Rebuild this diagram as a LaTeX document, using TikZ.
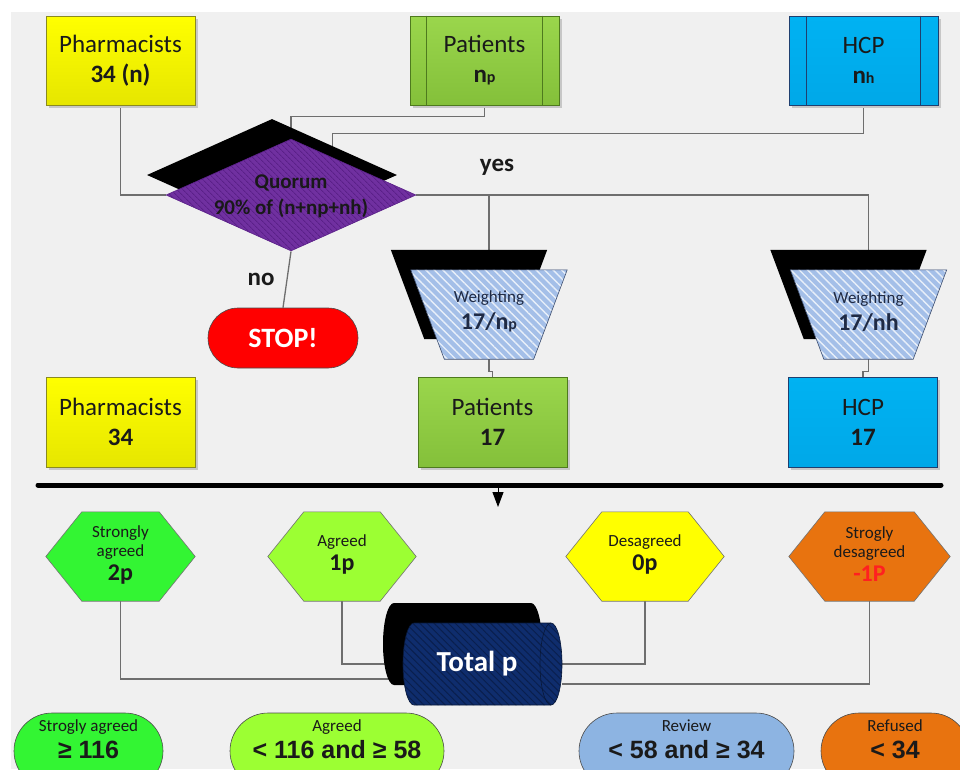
\documentclass[tikz,border=0pt]{standalone}
\usepackage{fontspec}
\setmainfont{Carlito}
\newfontfamily\arialf{Liberation Sans}
\usetikzlibrary{calc,patterns.meta,arrows.meta,shapes.geometric}
\pgfdeclarelayer{back}
\pgfdeclarelayer{conns}
\pgfsetlayers{back,conns,main}
\definecolor{bgc}{HTML}{F0F0F0}
\definecolor{txt}{HTML}{1A1A1A}
\definecolor{linec}{HTML}{6E6E6E}
\definecolor{yelT}{HTML}{FFFF00}
\definecolor{yelB}{HTML}{E6E600}
\definecolor{yelD}{HTML}{8A8A20}
\definecolor{grnT}{HTML}{9AD64C}
\definecolor{grnB}{HTML}{84C03A}
\definecolor{grnD}{HTML}{4E7A1E}
\definecolor{bluT}{HTML}{00B2F2}
\definecolor{bluB}{HTML}{00A8E8}
\definecolor{bluD}{HTML}{1F3F6F}
\definecolor{purF}{HTML}{7030A0}
\definecolor{purS}{HTML}{5A2088}
\definecolor{trapF}{HTML}{A4BFE8}
\definecolor{trapD}{HTML}{3F4F6F}
\definecolor{trtx}{HTML}{1F2A44}
\definecolor{navF}{HTML}{0F2D6D}
\definecolor{navS}{HTML}{0A1F4D}
\definecolor{navD}{HTML}{081838}
\definecolor{hexG}{HTML}{33F533}
\definecolor{hexL}{HTML}{9CFF33}
\definecolor{hexY}{HTML}{FFFF00}
\definecolor{hexO}{HTML}{E8730F}
\definecolor{revB}{HTML}{8DB4E2}
\definecolor{stopR}{HTML}{FF0000}
\definecolor{minusR}{HTML}{FF2020}
\newcommand\fsz[2]{\fontsize{#1}{#2}\selectfont}
\newcommand\mkhex[5]{%
  \node[minimum width=#3pt, minimum height=89pt, inner sep=0pt] (#1) at (#2,556.5) {};
  \path[draw=black!55, line width=0.6pt, fill=#4] (#1.west) -- ($(#1.north west)+(36,0)$) -- ($(#1.north east)+(-36,0)$) -- (#1.east) -- ($(#1.south east)+(-36,0)$) -- ($(#1.south west)+(36,0)$) -- cycle;
  \node[hextxt] at ($(#1)+(0,-2)$) {#5};
}
\newcommand\mktrap[3]{%
  \node[minimum width=156pt, minimum height=89pt, inner sep=0pt] (#1) at (#2,314.5) {};
  \fill[black] ($(#1.north west)+(-20,-20)$) -- ($(#1.north east)+(-20,-20)$) -- ($(#1.south east)+(-53.5,-20)$) -- ($(#1.south west)+(13.5,-20)$) -- cycle;
  \path[draw=trapD, line width=0.6pt, preaction={fill=trapF}, pattern={Lines[angle=-45,distance=6pt,line width=1.4pt]}, pattern color=white!75!trapF] (#1.north west) -- (#1.north east) -- ($(#1.south east)+(-33.5,0)$) -- ($(#1.south west)+(33.5,0)$) -- cycle;
  \node[trtxt] at ($(#1)+(0,-3)$) {#3};
}
\newcommand\cylshape[1]{%
  \path[#1] (551,623) -- (414,623) arc[start angle=270, end angle=90, x radius=11, y radius=41] -- (551,705) arc[start angle=90, end angle=-90, x radius=11, y radius=41] -- cycle;
}
\begin{document}
\begin{tikzpicture}[x=1pt,y=-1pt,
  conn/.style={draw=linec, line width=1.3pt},
  sbox/.style={minimum width=149pt, minimum height=89pt, inner sep=0pt, align=center, text=txt, font=\fsz{25}{30}, line width=0.8pt,
     preaction={fill=black!22, transform canvas={shift={(2.5pt,-2.5pt)}}}},
  ybox/.style={sbox, draw=yelD, top color=yelT, bottom color=yelB},
  gbox/.style={sbox, draw=grnD, top color=grnT, bottom color=grnB},
  bbox/.style={sbox, draw=bluD, top color=bluT, bottom color=bluB},
  hextxt/.style={align=center, text=txt, font=\fsz{17}{19}},
  trtxt/.style={align=center, text=trtx, font=\fsz{17}{27}},
  term/.style={draw=black!70, line width=0.6pt, rounded corners=38pt, minimum height=76pt, inner sep=0pt},
  termtxt/.style={align=center, text=txt, font=\fsz{17}{27}},
  lbl/.style={text=txt, font=\bfseries\fsz{25}{25}}
]
\path[use as bounding box] (0,0) rectangle (960,769);
\clip (0,0) rectangle (960,769);
\begin{pgfonlayer}{back}
  \fill[white] (0,0) rectangle (960,769);
  \fill[bgc] (11,12) rectangle (960,769);
\end{pgfonlayer}

% top row
\node[ybox] (ph) at (120.5,60.5) {Pharmacists\\\textbf{34 (n)}};
\node[gbox] (pat) at (484.5,60.5) {Patients\\\textbf{n{\fsz{16}{16}p}}};
\draw[grnD, line width=0.8pt] ($(pat.north west)+(17,0)$) -- ($(pat.south west)+(17,0)$);
\draw[grnD, line width=0.8pt] ($(pat.north east)+(-17,0)$) -- ($(pat.south east)+(-17,0)$);
\node[bbox] (hcp) at (863.5,60.5) {HCP\\\textbf{n{\fsz{16}{16}h}}};
\draw[bluD, line width=0.8pt] ($(hcp.north west)+(18,0)$) -- ($(hcp.south west)+(18,0)$);
\draw[bluD, line width=0.8pt] ($(hcp.north east)+(-18,0)$) -- ($(hcp.south east)+(-18,0)$);

% quorum diamond
\node[diamond, fill=black, minimum width=250pt, minimum height=112pt, inner sep=0pt] (qs) at (272,175) {};
\node[diamond, minimum width=250pt, minimum height=112pt, inner sep=0pt, draw=purS, line width=0.6pt,
      preaction={fill=purF}, pattern={Lines[angle=-45,distance=4pt,line width=0.9pt]}, pattern color=purS] (q) at (291,195) {};
\node[align=center, text=black!90, font=\bfseries\fsz{21}{26}] (qt) at (291,196) {Quorum\\90\% of (n+np+nh)};

\node[lbl] (yes) at (497,167) {yes};
\node[lbl] (no) at (261,279) {no};

\node[draw=black!70, fill=stopR, line width=0.6pt, rounded corners=30pt, minimum width=150pt, minimum height=60pt, inner sep=0pt,
      text=white, font=\bfseries\fsz{28}{28}] (stop) at (283,338) {STOP!};

% weighting
\mktrap{w1}{489}{Weighting\\{\bfseries\fsz{24}{24}17/n{\fsz{16}{16}p}}}
\mktrap{w2}{868.5}{Weighting\\{\bfseries\fsz{24}{24}17/nh}}

% second row
\node[ybox, minimum height=90pt] (ph2) at (120.5,422) {Pharmacists\\\textbf{34}};
\node[gbox, minimum height=90pt] (pat2) at (492.5,422) {Patients\\\textbf{17}};
\node[bbox, minimum height=90pt] (hcp2) at (863,422) {HCP\\\textbf{17}};

% bar and arrow
\coordinate (barL) at (38,485);
\coordinate (barR) at (941,485);
\draw[line width=5pt, line cap=round] (barL) -- (barR);
\coordinate (arrS) at (498,487);
\coordinate (arrE) at (498,507);
\draw[line width=1pt, -{Triangle[length=15pt,width=11pt]}] (arrS) -- (arrE);

% hexagons
\mkhex{hx1}{120.5}{149}{hexG}{Strongly\\agreed\\[5pt]{\bfseries\fsz{24}{24}2p}}
\mkhex{hx2}{342}{148}{hexL}{Agreed\\[5pt]{\bfseries\fsz{24}{24}1p}}
\mkhex{hx3}{645}{158}{hexY}{Desagreed\\[5pt]{\bfseries\fsz{24}{24}0p}}
\mkhex{hx4}{869.5}{161}{hexO}{Strogly\\desagreed\\[5pt]{\color{minusR}\bfseries\fsz{24}{24}-1P}}

% total cylinder
\node[minimum width=159pt, minimum height=82pt, inner sep=0pt] (tot) at (482.5,664) {};
\cylshape{fill=black, shift={(-20,-20)}}
\cylshape{draw=navD, line width=0.6pt, preaction={fill=navF}, pattern={Lines[angle=-45,distance=5pt,line width=1pt]}, pattern color=navS}
\draw[navD, line width=0.6pt] (551,623) arc[start angle=270, end angle=90, x radius=11, y radius=41];
\node[text=white, font=\bfseries\fsz{29}{29}] (tott) at (477,664) {Total p};

% terminators
\node[term, fill=hexG, minimum width=149pt] (t1) at (88.5,751) {};
\node[termtxt] at (88.5,739) {Strogly agreed\\{\arialf\bfseries\fsz{25}{25}≥ 116}};
\node[term, fill=hexL, minimum width=214pt] (t2) at (337,751) {};
\node[termtxt] at (337,739) {Agreed\\{\arialf\bfseries\fsz{25}{25}< 116 and ≥ 58}};
\node[term, fill=revB, minimum width=215pt] (t3) at (686.5,751) {};
\node[termtxt] at (686.5,739) {Review\\{\arialf\bfseries\fsz{25}{25}< 58 and ≥ 34}};
\node[term, fill=hexO, minimum width=148pt] (t4) at (895,751) {};
\node[termtxt] at (895,739) {Refused\\{\arialf\bfseries\fsz{25}{25}< 34}};

% connectors
\begin{pgfonlayer}{conns}
  \draw[conn] (ph.south) |- (q.west);
  \draw[conn] (pat.south) -- ++(0,11) -| (q.north);
  \draw[conn] (hcp.south) -- ++(0,28) -| ($(q.north)!0.33!(q.east)$);
  \draw[conn] (q.east) -| (w2.north);
  \draw[conn] (q.east) -| (w1.north);
  \draw[conn] (q.south) -- (stop.north);
  \draw[conn] (w1.south) -- ++(0,12) -| (pat2.north);
  \draw[conn] (w2.south) -- ++(0,12) -| (hcp2.north);
  \draw[conn] (hx1.south) |- ($(tot.west)+(0,15)$);
  \draw[conn] (hx2.south) |- (tot.west);
  \draw[conn] (hx3.south) |- (tot.east);
  \draw[conn] (hx4.south) |- ($(tot.east)+(0,20)$);
\end{pgfonlayer}
\end{tikzpicture}
\end{document}
